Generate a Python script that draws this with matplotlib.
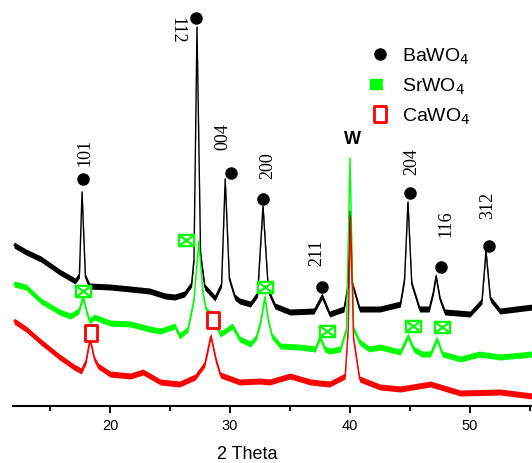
import matplotlib
matplotlib.use("Agg")
import matplotlib.pyplot as plt
from matplotlib.path import Path
from matplotlib.lines import Line2D
from matplotlib.legend_handler import HandlerTuple
import numpy as np

# ---------------- data (2-theta, intensity a.u.) ----------------
black_x = [12.0, 13.0, 14.25, 15.8, 17.1, 17.45, 17.67, 17.95, 18.3, 20.0, 21.7, 23.3, 24.6, 25.4,
           26.2, 26.8, 27.0, 27.25, 27.55, 27.9, 28.75, 29.3, 29.6, 29.95, 30.4, 30.8, 31.7, 32.3,
           32.75, 33.2, 33.75, 35.0, 37.0, 37.67, 38.3, 39.5, 39.85, 40.0, 40.2, 40.8, 42.5, 44.2,
           44.55, 44.83, 45.15, 45.8, 46.6, 46.95, 47.17, 47.5, 47.9, 50.0, 51.0, 51.33, 51.7,
           52.5, 55.2]
black_y = [161, 154, 147, 134, 125, 131, 214, 129, 120, 119, 117, 115, 110, 109,
           112, 122, 147, 379, 152, 119, 108, 122, 227, 127, 109, 105, 102, 112,
           200, 115, 100, 94, 95, 110, 92, 97, 122, 195, 122, 97, 97, 102,
           127, 204, 122, 97, 97, 114, 130, 107, 94, 92, 105, 155, 107,
           95, 99]

green_x = [12.0, 13.0, 14.25, 15.8, 16.7, 17.4, 17.75, 18.1, 18.3, 18.7, 20.0, 21.7, 23.3, 24.2,
           25.4, 25.8, 26.5, 27.0, 27.4, 27.75, 28.0, 28.5, 29.2, 29.6, 30.2, 30.8, 31.7, 32.2,
           32.6, 32.9, 33.2, 33.5, 34.2, 35.8, 37.1, 37.5, 37.9, 38.3, 39.2, 39.7, 40.0, 40.3,
           40.8, 41.6, 42.5, 44.2, 44.83, 45.3, 46.0, 46.7, 47.25, 47.7, 49.2, 50.8, 52.5, 55.2]
green_y = [122, 119, 105, 94, 90, 95, 109, 92, 85, 89, 83, 82, 77, 75,
           80, 70, 77, 107, 165, 112, 97, 89, 72, 75, 80, 67, 62, 69,
           87, 109, 85, 70, 60, 59, 57, 69, 57, 55, 57, 77, 248, 77,
           64, 57, 59, 54, 70, 57, 52, 52, 67, 52, 47, 52, 49, 52]

red_x = [12.0, 13.0, 14.25, 15.8, 17.0, 17.6, 18.0, 18.33, 18.7, 19.0, 20.0, 21.7, 22.75, 24.2,
         25.8, 27.1, 27.9, 28.4, 28.85, 29.2, 30.8, 32.5, 33.3, 35.0, 36.7, 38.3, 39.6, 39.85,
         40.05, 40.3, 40.8, 42.5, 44.2, 46.7, 49.2, 52.5, 55.2]
red_y = [85, 77, 64, 49, 39, 35, 45, 67, 47, 40, 32, 30, 34, 24,
         22, 29, 42, 70, 45, 31, 24, 25, 24, 30, 24, 22, 30, 77,
         189, 67, 27, 19, 17, 22, 13, 14, 10]

# phase markers
ba_x = [17.75, 27.17, 30.08, 32.75, 37.67, 45.0, 47.58, 51.58]
ba_y = [227, 388, 233, 207, 119, 213, 139, 160]
sr_x = [17.75, 26.33, 32.92, 38.08, 45.25, 47.67]
sr_y = [115, 166, 119, 75, 80, 79]
ca_x = [18.42, 28.58]
ca_y = [73, 86]

# reflection labels
hkl_text = ["101", "112", "004", "200", "211", "204", "116", "312"]
hkl_x = [17.92, 25.58, 29.42, 33.13, 37.25, 45.17, 48.0, 51.5]
hkl_y = [255, 377, 270, 241, 154, 245, 183, 202]
hkl_rot = [90, 270, 90, 90, 90, 90, 90, 90]
w_label = ("W", 40.17, 267)

legend_labels = ["BaWO$_4$", "SrWO$_4$", "CaWO$_4$"]
xticks_major = [20, 30, 40, 50]
xticks_minor = [15, 25, 35, 45, 55]

# ---------------- figure ----------------
W, H = 532, 464
fig = plt.figure(figsize=(W / 100, H / 100), dpi=100)
ax = fig.add_axes([13 / W, (H - 407) / H, 1 - 13 / W, 407 / H])
ax.set_xlim(11.917, 55.17)
ax.set_ylim(0, 407)

GREEN = "#00ff00"
RED = "#ff0000"
band = 3.0
for xs, ys, c in [(black_x, black_y, "black"), (green_x, green_y, GREEN), (red_x, red_y, RED)]:
    xs = np.asarray(xs, float)
    ys = np.asarray(ys, float)
    ax.fill_between(xs, ys - band, ys + band, color=c, lw=0)
    ax.plot(xs, ys, color=c, lw=1.0)

# marker shapes
rect_tall = Path([(-0.38, -0.5), (0.38, -0.5), (0.38, 0.5), (-0.38, 0.5), (-0.38, -0.5)],
                 [Path.MOVETO, Path.LINETO, Path.LINETO, Path.LINETO, Path.CLOSEPOLY])
box_x = Path([(-0.5, -0.37), (0.5, -0.37), (0.5, 0.37), (-0.5, 0.37), (-0.5, -0.37),
              (-0.5, -0.37), (0.5, 0.37), (-0.5, 0.37), (0.5, -0.37)],
             [Path.MOVETO, Path.LINETO, Path.LINETO, Path.LINETO, Path.CLOSEPOLY,
              Path.MOVETO, Path.LINETO, Path.MOVETO, Path.LINETO])
rect_wide = Path([(-0.5, -0.4), (0.5, -0.4), (0.5, 0.4), (-0.5, 0.4), (-0.5, -0.4)],
                 [Path.MOVETO, Path.LINETO, Path.LINETO, Path.LINETO, Path.CLOSEPOLY])

ax.plot(ba_x, ba_y, ls="none", marker="o", ms=8, mfc="black", mec="black", zorder=5)
ax.plot(sr_x, sr_y, ls="none", marker=box_x, ms=11, mfc="white", mec=GREEN, mew=1.6, zorder=5)
ax.plot(ca_x, ca_y, ls="none", marker=rect_tall, ms=12, mfc="white", mec=RED, mew=2.0, zorder=5)

for t, x, y, r in zip(hkl_text, hkl_x, hkl_y, hkl_rot):
    ax.text(x, y, t, rotation=r, ha="center", va="center", fontsize=13,
            family="Liberation Serif")
ax.text(w_label[1], w_label[2], w_label[0], ha="center", va="center", fontsize=13,
        family="Liberation Sans", fontweight="bold")

# axes styling
for s in ["left", "right", "top"]:
    ax.spines[s].set_visible(False)
ax.spines["bottom"].set_linewidth(1.5)
ax.set_yticks([])
ax.set_xticks(xticks_major)
ax.set_xticks(xticks_minor, minor=True)
ax.tick_params(axis="x", which="major", direction="out", length=5, width=1.3, pad=4,
               labelsize=10.5)
ax.tick_params(axis="x", which="minor", direction="out", length=3.5, width=1.3)
for lab in ax.get_xticklabels():
    lab.set_family("Liberation Sans")
ax.set_xlabel("2 Theta", fontsize=13, family="Liberation Sans")
ax.xaxis.set_label_coords((247 - 13) / 519, -(446 - 407) / 407)

# legend
h_ba = Line2D([], [], ls="none", marker="o", ms=8, mfc="black", mec="black")
h_sr = Line2D([], [], ls="none", marker=rect_wide, ms=9, mfc=GREEN, mec=GREEN)
h_sr2 = Line2D([], [], ls="none", marker="x", ms=3.5, mec="white", mew=0.8)
h_ca = Line2D([], [], ls="none", marker=rect_tall, ms=12, mfc="white", mec=RED, mew=2.0)
leg = fig.legend([h_ba, (h_sr, h_sr2), h_ca], legend_labels,
                 handler_map={tuple: HandlerTuple(ndivide=None, pad=0)},
                 loc="upper left", bbox_to_anchor=(372 / W, 1 - 47 / H),
                 frameon=False, borderpad=0, borderaxespad=0,
                 handlelength=0.8, handletextpad=0.75, labelspacing=0.5,
                 prop={"family": "Liberation Sans", "size": 14})

fig.savefig("out.png", dpi=100)
